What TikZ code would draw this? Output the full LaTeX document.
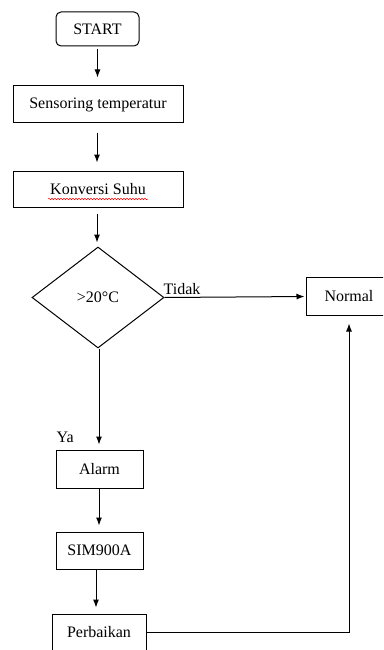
\documentclass[tikz,border=0pt]{standalone}
\usepackage{fontspec}
\setmainfont{Liberation Serif}
\usetikzlibrary{shapes.geometric,arrows.meta,calc,decorations.pathmorphing}

\begin{document}
\begin{tikzpicture}[x=1pt,y=-1pt,
    every node/.style={font=\fontsize{16}{19}\selectfont, inner sep=0pt},
    prosesbox/.style={draw, line width=1pt, minimum height=37pt},
    startbox/.style={prosesbox, rounded corners=5pt},
    decisionbox/.style={draw, line width=1pt, diamond, minimum width=132pt, minimum height=101pt},
    arrowline/.style={line width=1pt, -{Latex[length=8pt,width=6pt]}}]
    \useasboundingbox (0,0) rectangle (383,650);
    \clip (0,0) rectangle (383,650);
    \node[startbox, minimum width=83pt, minimum height=34pt] (start) at (97.5,29) {START};
    \node[prosesbox, minimum width=170pt] (sensor) at (98,104.5) {Sensoring temperatur};
    \node[prosesbox, minimum width=170pt, minimum height=36pt] (konversi) at (98,189) {Konversi Suhu};
    \node[decisionbox] (cek) at (98,297.5) {>20°C};
    \node[prosesbox, draw=none, minimum width=84pt] (normal) at (349,296.5) {Normal};
    \node[prosesbox, minimum width=87pt, minimum height=38pt] (alarm) at (99.5,469) {Alarm};
    \node[prosesbox, minimum width=87pt] (sim) at (99.5,550.5) {SIM900A};
    \node[prosesbox, minimum width=94pt] (perbaikan) at (99,632.5) {Perbaikan};
    % Normal box runs past the right edge
    \draw[line width=1pt] (normal.north west) rectangle ($(normal.south east)+(40,0)$);
    % red spell-check line under Konversi Suhu
    \draw[red, line width=0.5pt, decoration={snake, amplitude=0.7pt, segment length=3pt}, decorate]
        ($(konversi.center)+(-50,10)$) -- ($(konversi.center)+(50,10)$);
    % connectors
    \draw[arrowline, shorten <=3pt, shorten >=8pt] (start.south) -- (start.south |- sensor.north);
    \draw[arrowline, shorten <=9pt, shorten >=8pt] ([xshift=-1pt]sensor.south) -- ([xshift=-1pt]sensor.south |- konversi.north);
    \draw[arrowline, shorten <=6pt, shorten >=4pt] ([xshift=-1pt]konversi.south) -- ([xshift=-1pt]konversi.south |- cek.north);
    \draw[arrowline, shorten >=5pt] ([xshift=1pt]cek.south) -- ([xshift=1pt]cek.south |- alarm.north);
    \draw[arrowline, shorten >=2pt] (cek.east) -- (normal.west);
    \draw[arrowline, shorten >=6pt] ([xshift=-0.5pt]alarm.south) -- ([xshift=-0.5pt]alarm.south |- sim.north);
    \draw[arrowline, shorten >=6pt] ([xshift=-3.5pt]sim.south) -- ([xshift=-3.5pt]sim.south |- perbaikan.north);
    \draw[arrowline, shorten >=8pt] (perbaikan.east) -| (normal.south);
    % labels
    \node[anchor=base west] (tidak) at ($(cek.east)+(-1,-3.5)$) {Tidak};
    \node[anchor=base west] (ya) at ($(alarm.north west)+(1,-7)$) {Ya};
\end{tikzpicture}
\end{document}
